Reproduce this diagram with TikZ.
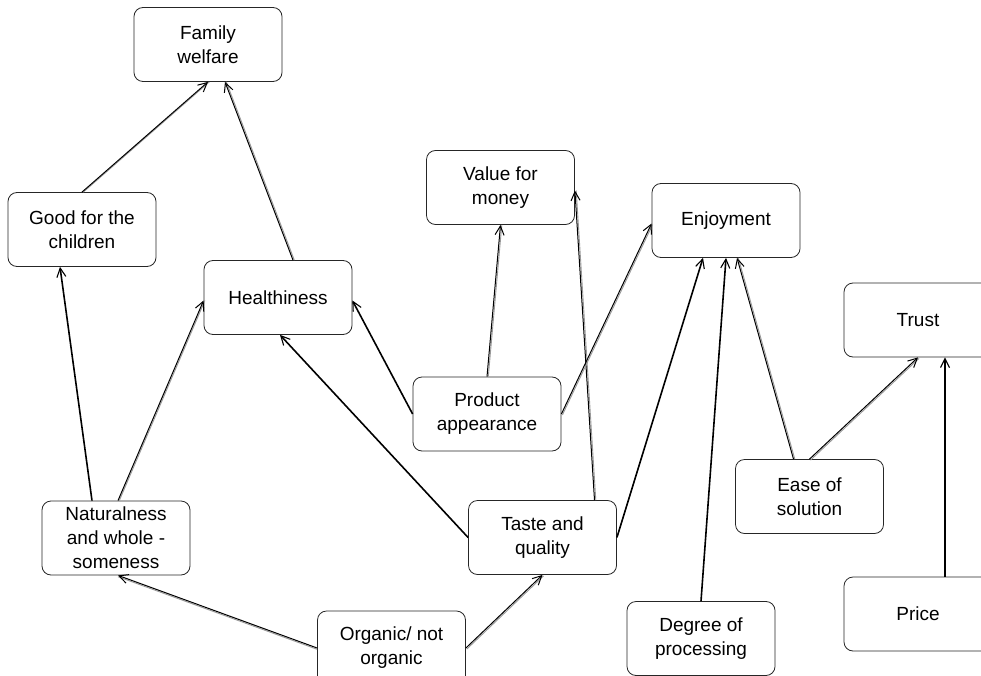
\documentclass[tikz,border=0pt]{standalone}
\usepackage{fontspec}
\setmainfont{Liberation Sans}
\usetikzlibrary{arrows.meta,calc}
\begin{document}
\begin{tikzpicture}[x=1pt,y=-1pt,
  box/.style={draw=black!85, line width=0.8pt, rounded corners=9pt,
    minimum width=148pt, minimum height=74pt, align=center, inner sep=0pt,
    font=\fontsize{19}{24}\selectfont},
  link/.style={line width=1.6pt,
    -{Straight Barb[length=9pt,width=9pt,line width=1.1pt]}},
  dlink/.style={line width=1pt,
    -{Straight Barb[length=9pt,width=9pt,line width=1pt]},
    preaction={draw=black!40, line width=0.9pt, -,
      transform canvas={shift={#1}}}},
  dlink/.default={(1.3,0)}]
\clip (0,0) rectangle (981,676);

% concepts
\node[box] (fam)    at (208,44.5)  {Family\\welfare};
\node[box] (good)   at (82,229.5)  {Good for the\\children};
\node[box] (health) at (278,297.5) {Healthiness};
\node[box] (value)  at (500.5,187.5) {Value for\\money};
\node[box] (enjoy)  at (726,220.5) {Enjoyment};
\node[box] (prod)   at (487,414)   {Product\\appearance};
\node[box] (trust)  at (918,320)   {Trust};
\node[box] (ease)   at (809.5,496.5) {Ease of\\solution};
\node[box] (nat)    at (116,538)   {Naturalness\\and whole -\\someness};
\node[box] (taste)  at (542.5,537.5) {Taste and\\quality};
\node[box] (org)    at (391.5,648) {Organic/ not\\organic};
\node[box] (deg)    at (701,638.5) {Degree of\\processing};
\node[box] (price)  at (918,614)   {Price};

% links
\draw[dlink] (good.north) -- (fam.south);
\draw[dlink] ($(health.north)+(15,0)$) -- ($(fam.south)+(17,0)$);
\draw[link]  ($(nat.north)+(-24,0)$) -- ($(good.south)+(-22,0)$);
\draw[dlink] ($(nat.north)+(2,0)$) -- ($(health.west)+(0,3)$);
\draw[link]  (taste.west) -- ($(health.south)+(2,0)$);
\draw[link]  (prod.west) -- ($(health.east)+(0,3)$);
\draw[dlink] (prod.north) -- (value.south);
\draw[dlink] ($(taste.north)+(52,0)$) -- ($(value.east)+(0,3)$);
\draw[dlink={(1,1)}] (prod.east) -- ($(enjoy.west)+(0,3)$);
\draw[link]  (taste.east) -- ($(enjoy.south)+(-23,0)$);
\draw[link]  (deg.north) -- (enjoy.south);
\draw[dlink] ($(ease.north)+(-16,0)$) -- ($(enjoy.south)+(11,0)$);
\draw[dlink={(1,1)}] (ease.north) -- (trust.south);
\draw[link]  ($(price.north)+(27,0)$) -- ($(trust.south)+(27,0)$);
\draw[dlink={(0,1.3)}] (org.west) -- ($(nat.south)+(2,0)$);
\draw[dlink={(1,1)}] (org.east) -- (taste.south);
\end{tikzpicture}
\end{document}
